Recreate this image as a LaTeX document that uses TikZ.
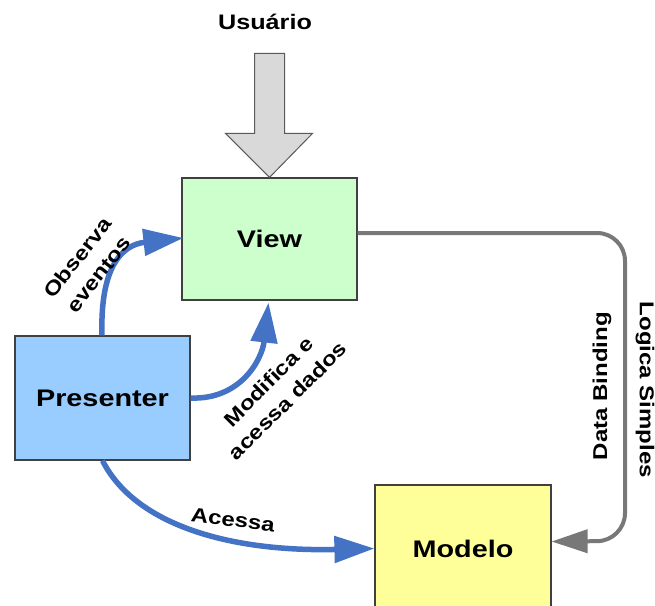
\documentclass[tikz,border=0pt]{standalone}
\usepackage{fontspec}
\setmainfont{Liberation Sans}[FakeStretch=1.2]
\usetikzlibrary{arrows.meta,calc}
\definecolor{viewgreen}{RGB}{204,255,204}
\definecolor{presblue}{RGB}{153,204,255}
\definecolor{modyellow}{RGB}{255,255,153}
\definecolor{flowblue}{RGB}{68,114,196}
\definecolor{bindgray}{RGB}{120,120,120}
\definecolor{usergray}{RGB}{217,217,217}
\tikzset{
  box/.style={draw=black!75, line width=1.2pt, inner sep=0pt, font=\bfseries\fontsize{24}{26}\selectfont},
  flow/.style={draw=flowblue, line width=5.5pt, -{Triangle[length=40pt,width=26pt]}},
  binding/.style={draw=bindgray, line width=4pt, rounded corners=28pt, -{Triangle[length=36pt,width=23pt]}},
  lbl/.style={font=\bfseries\fontsize{20}{27}\selectfont, align=center, inner sep=0pt},
  userarrow/.style={fill=usergray, draw=black!65, line width=1pt, line join=miter}
}
\begin{document}
\begin{tikzpicture}[x=1pt,y=-1pt]
  \clip (0,0) rectangle (655,605);
  \fill[white] (0,0) rectangle (655,605);

  % the three components
  \node[box, fill=viewgreen, minimum width=175pt, minimum height=122pt] (view) at (269.5,239) {View};
  \node[box, fill=presblue, minimum width=175pt, minimum height=124pt] (pres) at (102.5,398) {Presenter};
  \node[box, fill=modyellow, minimum width=176pt, minimum height=127pt] (modelo) at (463,548.5) {Modelo};

  % user input entering the view
  \node[lbl, font=\bfseries\fontsize{21}{24}\selectfont] (user) at (265,22) {Usuário};
  \coordinate (tip) at (view.north);
  \draw[userarrow] (tip) -- ($(tip)+(43,-44)$) -- ($(tip)+(15,-44)$) -- ($(tip)+(15,-124)$)
     -- ($(tip)+(-15,-124)$) -- ($(tip)+(-15,-44)$) -- ($(tip)+(-44,-44)$) -- cycle;

  % presenter -> view
  \draw[flow] (pres.north -| 102,0) .. controls (100,270) and (120,245) .. ($(view.west)+(2,-1)$);
  \draw[flow] (pres.east) .. controls (240,400) and (262,360) .. ($(view.south)+(-1,2)$);
  % presenter -> model
  \draw[flow] (pres.south) .. controls (135,525) and (230,552) .. (modelo.west);

  % data binding between view and model
  \draw[binding] ($(view.east)+(0,-6)$) -- (625,233) -- (625,541) -- ($(modelo.east)+(0,-7)$);

  % connector labels
  \node[lbl, rotate=52] (obs) at (88,266) {Observa\\eventos};
  \node[lbl, rotate=45] (mod) at (278,391) {Modifica e\\acessa dados};
  \node[lbl, rotate=-7] (ac) at (233,520) {Acessa};
  \node[lbl, rotate=90] (db) at (602,386) {Data Binding};
  \node[lbl, rotate=-90] (ls) at (645,390) {Logica Simples};
\end{tikzpicture}
\end{document}
